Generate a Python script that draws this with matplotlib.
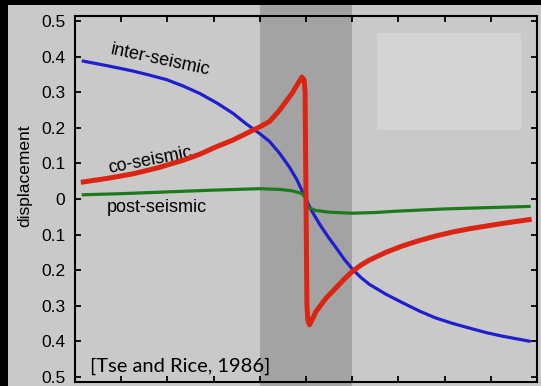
import matplotlib
matplotlib.use("Agg")
import matplotlib.pyplot as plt
from matplotlib.patches import Rectangle

# values
inter_x = [-4.82, -4.3, -3.74, -3.4, -3.02, -2.66, -2.3, -1.94, -1.58, -1.3, -1.0, -0.79, -0.58, -0.36, -0.2, -0.07, 0.0,
           0.1, 0.29, 0.47, 0.65, 0.83, 1.01, 1.19, 1.37, 1.73, 2.09, 2.45, 2.81, 3.17, 3.53, 3.9, 4.25, 4.83]
inter_y = [0.388, 0.375, 0.36, 0.349, 0.336, 0.318, 0.297, 0.271, 0.241, 0.212, 0.184, 0.162, 0.13, 0.09, 0.055, 0.019, 0.0,
           -0.028, -0.07, -0.105, -0.137, -0.17, -0.198, -0.221, -0.24, -0.268, -0.292, -0.315, -0.335, -0.35, -0.363, -0.376, -0.386, -0.4]

co_x = [-4.82, -4.3, -3.74, -3.2, -2.66, -2.3, -1.94, -1.58, -1.3, -1.0, -0.79, -0.57, -0.3, -0.09,
        -0.04, -0.02, 0.0, 0.02, 0.04, 0.076, 0.13, 0.22, 0.44, 0.65, 0.83, 1.01, 1.19, 1.37, 1.73, 2.09,
        2.45, 2.81, 3.17, 3.53, 4.24, 4.83]
co_y = [0.048, 0.058, 0.071, 0.088, 0.109, 0.126, 0.147, 0.166, 0.184, 0.203, 0.218, 0.25, 0.298, 0.343,
        0.335, 0.3, 0.0, -0.3, -0.34, -0.354, -0.34, -0.316, -0.278, -0.25, -0.225, -0.203, -0.186, -0.172, -0.15, -0.132,
        -0.117, -0.104, -0.093, -0.084, -0.069, -0.058]

post_x = [-4.82, -4.0, -3.0, -2.0, -1.0, -0.57, -0.3, -0.1, -0.02, 0.05, 0.2, 0.5, 1.0, 1.5, 2.0, 3.0, 4.0, 4.83]
post_y = [0.012, 0.015, 0.02, 0.025, 0.029, 0.027, 0.023, 0.016, 0.005, -0.024, -0.032, -0.037, -0.04, -0.038, -0.034, -0.028, -0.024, -0.021]

yticks = [0.5, 0.4, 0.3, 0.2, 0.1, 0.0, -0.1, -0.2, -0.3, -0.4, -0.5]
ytick_labels = ["0.5", "0.4", "0.3", "0.2", "0.1", "0", "0.1", "0.2", "0.3", "0.4", "0.5"]
xticks = [-5, -4, -3, -2, -1, 0, 1, 2, 3, 4, 5]

bg = "#c9c9c9"
band = "#a3a3a3"

plt.rcParams["font.family"] = ["Liberation Sans", "DejaVu Sans"]

fig = plt.figure(figsize=(5.41, 3.86), dpi=100, facecolor="black")
fig.patches.append(Rectangle((8 / 541, 0), 1, 381 / 386, transform=fig.transFigure,
                             facecolor=bg, edgecolor="none", zorder=-5))

ax = fig.add_axes([75 / 541, 4 / 386, 462 / 541, 366 / 386])
ax.set_facecolor(bg)
ax.set_xlim(-5, 5)
ax.set_ylim(-0.515, 0.515)

# shaded fault zone, running past the top of the axes like the slide
ax.axvspan(-1, 1, ymin=-0.02, ymax=1 + 11 / 366, color=band, clip_on=False, zorder=0.5, lw=0)
ax.add_patch(Rectangle((0.654, 0.689), 0.311, 0.265, transform=ax.transAxes,
                       facecolor="#d4d4d4", edgecolor="none", zorder=0.6))

ax.plot(inter_x, inter_y, color="#1f1fcf", lw=2.3, zorder=3)
ax.plot(post_x, post_y, color="#1c7a1c", lw=2.3, zorder=3)
ax.plot(co_x, co_y, color="#dc2412", lw=3.6, zorder=4, solid_joinstyle="round")

ax.text(-3.16, 0.392, "inter-seismic", fontsize=13, rotation=-12, ha="center", va="center")
ax.text(-3.38, 0.108, "co-seismic", fontsize=13, rotation=11, ha="center", va="center")
ax.text(-3.23, -0.024, "post-seismic", fontsize=13, ha="center", va="center")
ax.text(-2.73, -0.472, "[Tse and Rice, 1986]", fontsize=14.5, family=["Lato", "DejaVu Sans"],
        ha="center", va="center")

ax.set_yticks(yticks)
ax.set_yticklabels(ytick_labels)
ax.set_xticks(xticks)
ax.set_xticklabels([])
ax.tick_params(direction="in", length=4, width=1.3, top=True, right=True,
               labelsize=12.5, pad=7, color="black")
for s in ax.spines.values():
    s.set_linewidth(1.5)

fig.text(25 / 541, 1 - 176 / 386, "displacement", rotation=90, fontsize=12.5,
         ha="center", va="center")

fig.savefig("out.png", dpi=100, facecolor="black")
